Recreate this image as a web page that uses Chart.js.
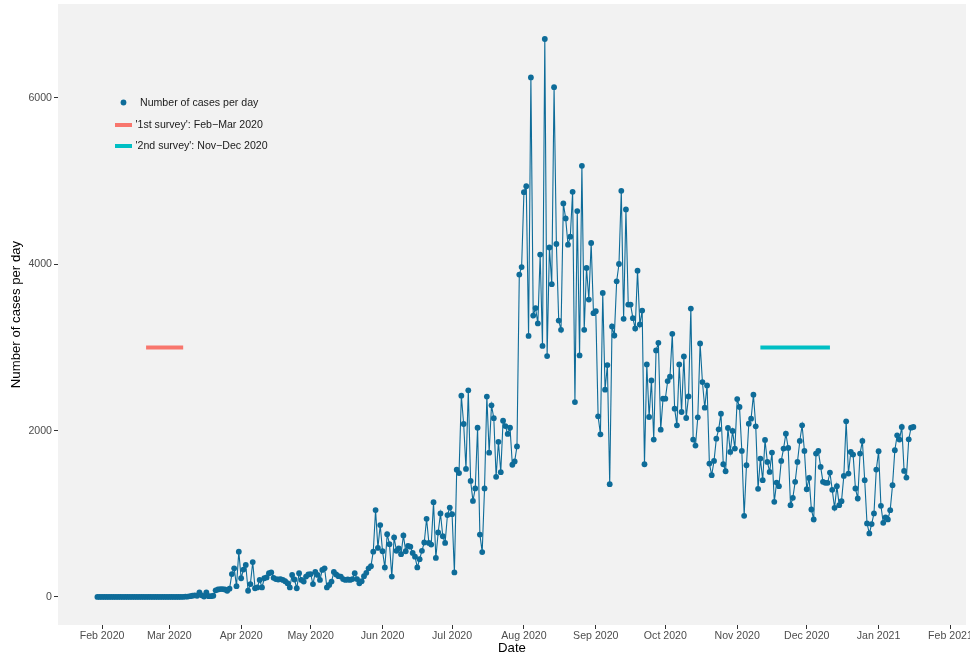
<!DOCTYPE html>
<html>
<head>
<meta charset="utf-8">
<title>Number of cases per day</title>
<script src="https://cdn.jsdelivr.net/npm/chart.js@4.4.1/dist/chart.umd.min.js"></script>
<style>
  html, body { margin: 0; padding: 0; background: #ffffff; }
  #wrap { width: 970px; height: 654px; }
</style>
</head>
<body>
<div id="wrap"><canvas id="chart" width="970" height="654"></canvas></div>
<script>
// ---- data: daily reported cases, one value per day from the start date ----
const startDate = '2020-01-30';
const casesJan2020 = [1, 0];
const casesFeb2020 = [0, 1, 0, 0, 1, 0, 0, 0, 0, 0, 0, 0, 0, 0, 0, 0, 0, 0, 0, 0, 0, 0, 0, 0, 0, 0, 0, 0, 0];
const casesMar2020 = [0, 0, 0, 0, 0, 0, 2, 3, 5, 10, 15, 20, 15, 55, 20, 5, 55, 10, 10, 15, 80, 90, 95, 95, 90, 75, 100, 275, 345, 130, 545];
const casesApr2020 = [225, 330, 385, 75, 155, 420, 105, 115, 205, 115, 225, 235, 285, 295, 230, 215, 210, 215, 205, 190, 165, 115, 265, 210, 105, 285, 205, 185, 245, 270];
const casesMay2020 = [275, 155, 300, 265, 205, 325, 345, 115, 145, 185, 300, 270, 250, 245, 215, 205, 210, 205, 215, 285, 215, 165, 190, 250, 290, 345, 370, 545, 1045, 590, 865];
const casesJun2020 = [550, 355, 755, 635, 245, 715, 555, 585, 515, 740, 550, 615, 605, 530, 485, 355, 455, 555, 655, 940, 650, 630, 1140, 470, 775, 1005, 730, 650, 985, 1075];
const casesJul2020 = [995, 295, 1530, 1490, 2420, 2080, 1540, 2485, 1395, 1155, 1305, 2035, 750, 540, 1305, 2410, 1735, 2305, 2150, 1445, 1865, 1500, 2120, 2055, 1960, 2035, 1590, 1630, 1810, 3877, 3967];
const casesAug2020 = [4867, 4939, 3139, 6247, 3384, 3474, 3289, 4117, 3019, 6709, 2896, 4202, 3761, 6130, 4244, 3324, 3212, 4732, 4552, 4236, 4332, 4872, 2344, 4640, 2904, 5184, 3212, 3956, 3576, 4256, 3412];
const casesSep2020 = [3436, 2172, 1956, 3656, 2492, 2788, 1356, 3252, 3144, 3796, 4004, 4884, 3344, 4660, 3516, 3516, 3352, 3228, 3924, 3276, 3444, 1596, 2796, 2164, 2604, 1892, 2964, 3056, 2012, 2384];
const casesOct2020 = [2384, 2596, 2648, 3164, 2264, 2064, 2796, 2224, 2892, 2152, 2412, 3468, 1892, 1820, 2160, 3048, 2584, 2276, 2544, 1604, 1464, 1636, 1904, 2016, 2204, 1596, 1512, 2032, 1744, 1996, 1784];
const casesNov2020 = [2380, 2284, 1756, 976, 1584, 2084, 2144, 2432, 2052, 1300, 1664, 1404, 1888, 1624, 1504, 1736, 1144, 1376, 1332, 1636, 1784, 1964, 1792, 1104, 1192, 1384, 1624, 1876, 2064, 1756];
const casesDec2020 = [1296, 1432, 1052, 932, 1724, 1756, 1564, 1384, 1372, 1372, 1496, 1288, 1072, 1332, 1104, 1152, 1456, 2112, 1484, 1744, 1712, 1304, 1184, 1724, 1876, 1404, 884, 764, 876, 1004, 1532];
const casesJan2021 = [1752, 1096, 892, 956, 932, 1044, 1344, 1764, 1944, 1892, 2044, 1516, 1436, 1896, 2036, 2044];

// survey periods, both drawn at the same level
const survey1Dates = ['2020-02-20', '2020-03-07'];
const survey2Dates = ['2020-11-11', '2020-12-11'];
const surveyLevel = 3000;

// axis ticks
const monthTickDates = ['2020-02-01', '2020-03-01', '2020-04-01', '2020-05-01', '2020-06-01', '2020-07-01',
  '2020-08-01', '2020-09-01', '2020-10-01', '2020-11-01', '2020-12-01', '2021-01-01', '2021-02-01'];
const monthTickLabels = ['Feb 2020', 'Mar 2020', 'Apr 2020', 'May 2020', 'Jun 2020', 'Jul 2020',
  'Aug 2020', 'Sep 2020', 'Oct 2020', 'Nov 2020', 'Dec 2020', 'Jan 2021', 'Feb 2021'];
const yTickValues = [0, 2000, 4000, 6000];

// legend entries
const legendLabels = ["Number of cases per day", "'1st survey': Feb\u2212Mar 2020", "'2nd survey': Nov\u2212Dec 2020"];

// ---- styling ----
const FONT = "'Liberation Sans', Arial, Helvetica, sans-serif";
const caseColor = '#0e6c99';
const survey1Color = '#F8766D';
const survey2Color = '#00BFC4';
const panelColor = '#F2F2F2';

// x positions are days counted from 1 Feb 2020
const DAY = 86400000;
const origin = Date.parse('2020-02-01');
const dayNo = s => (Date.parse(s) - origin) / DAY;

const dailyCases = [].concat(casesJan2020, casesFeb2020, casesMar2020, casesApr2020, casesMay2020,
  casesJun2020, casesJul2020, casesAug2020, casesSep2020, casesOct2020, casesNov2020, casesDec2020, casesJan2021);
const firstDay = dayNo(startDate);
const caseSeries = dailyCases.map((v, i) => ({ x: firstDay + i, y: v }));
const surveySeries = dates => dates.map(d => ({ x: dayNo(d), y: surveyLevel }));

const panelBackground = {
  id: 'panelBackground',
  beforeDraw(chart) {
    const { ctx, chartArea: a } = chart;
    ctx.save();
    ctx.fillStyle = '#ffffff';
    ctx.fillRect(0, 0, chart.width, chart.height);
    ctx.fillStyle = panelColor;
    ctx.fillRect(a.left, a.top, a.right - a.left, a.bottom - a.top);
    ctx.restore();
  }
};

// legend drawn inside the panel, top-left
const insideLegend = {
  id: 'insideLegend',
  afterDraw(chart) {
    const ctx = chart.ctx;
    ctx.save();
    ctx.font = '10.6px ' + FONT;
    ctx.textBaseline = 'middle';
    ctx.textAlign = 'left';
    // point key
    ctx.beginPath();
    ctx.arc(123.5, 102.5, 2.9, 0, Math.PI * 2);
    ctx.fillStyle = caseColor;
    ctx.fill();
    ctx.fillStyle = '#1a1a1a';
    ctx.fillText(legendLabels[0], 140, 103);
    // survey keys
    [[survey1Color, 125, legendLabels[1]], [survey2Color, 146, legendLabels[2]]].forEach(([c, y, t]) => {
      ctx.strokeStyle = c;
      ctx.lineWidth = 4;
      ctx.lineCap = 'butt';
      ctx.beginPath();
      ctx.moveTo(115, y);
      ctx.lineTo(132, y);
      ctx.stroke();
      ctx.fillStyle = '#1a1a1a';
      ctx.fillText(t, 135.5, y + 0.5);
    });
    ctx.restore();
  }
};

new Chart(document.getElementById('chart'), {
  type: 'line',
  data: {
    datasets: [
      {
        label: legendLabels[1],
        data: surveySeries(survey1Dates),
        borderColor: survey1Color,
        borderWidth: 4,
        borderCapStyle: 'butt',
        pointRadius: 0,
        fill: false
      },
      {
        label: legendLabels[2],
        data: surveySeries(survey2Dates),
        borderColor: survey2Color,
        borderWidth: 4,
        borderCapStyle: 'butt',
        pointRadius: 0,
        fill: false
      },
      {
        label: legendLabels[0],
        data: caseSeries,
        borderColor: caseColor,
        backgroundColor: caseColor,
        borderWidth: 1.1,
        tension: 0,
        pointRadius: 2.9,
        pointBorderWidth: 0,
        pointBackgroundColor: caseColor,
        fill: false
      }
    ]
  },
  options: {
    responsive: false,
    devicePixelRatio: 1,
    animation: false,
    events: [],
    layout: { padding: { top: 4, right: 4, left: 0, bottom: 0 } },
    plugins: { legend: { display: false }, tooltip: { enabled: false } },
    scales: {
      x: {
        type: 'linear',
        min: -19,
        max: 372.7,
        afterFit(s) { s.height = 29; s.paddingLeft = 0; s.paddingRight = 0; },
        afterBuildTicks(s) { s.ticks = monthTickDates.map(d => ({ value: dayNo(d) })); },
        ticks: {
          autoSkip: false,
          maxRotation: 0,
          minRotation: 0,
          padding: 1,
          color: '#4D4D4D',
          font: { family: FONT, size: 10.6 },
          callback(value, index) { return monthTickLabels[index]; }
        },
        grid: { display: true, drawOnChartArea: false, drawTicks: true, tickLength: 4, tickColor: '#333333', tickWidth: 1 },
        border: { display: false },
        title: {
          display: true,
          text: 'Date',
          color: '#000000',
          font: { family: FONT, size: 13.2, lineHeight: 1 },
          padding: { top: 0, bottom: -1 }
        }
      },
      y: {
        type: 'linear',
        min: -337,
        max: 7130,
        afterFit(s) { s.width = 58; s.paddingTop = 0; s.paddingBottom = 0; },
        afterBuildTicks(s) { s.ticks = yTickValues.map(v => ({ value: v })); },
        ticks: {
          padding: 2,
          color: '#4D4D4D',
          font: { family: FONT, size: 10.6 },
          callback(value) { return String(value); }
        },
        grid: { display: true, drawOnChartArea: false, drawTicks: true, tickLength: 4, tickColor: '#333333', tickWidth: 1 },
        border: { display: false },
        title: {
          display: true,
          text: 'Number of cases per day',
          color: '#000000',
          font: { family: FONT, size: 13.2, lineHeight: 1 },
          padding: { top: 9.4, bottom: 0 }
        }
      }
    }
  },
  plugins: [panelBackground, insideLegend]
});
</script>
</body>
</html>
